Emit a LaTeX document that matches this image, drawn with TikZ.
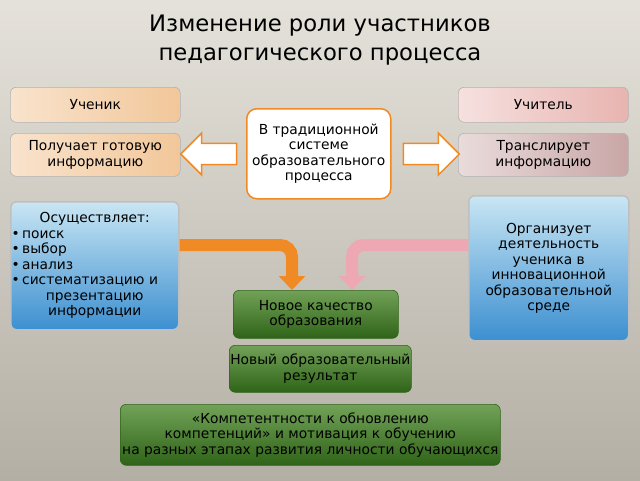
\documentclass[tikz,border=0pt]{standalone}
\usepackage{fontspec}
\setmainfont{DejaVu Sans}
\usetikzlibrary{shapes.arrows,arrows.meta}
\definecolor{bg}{HTML}{D3CEC2}
\definecolor{peach}{HTML}{F2C79A}
\definecolor{pink}{HTML}{E8B4B0}
\definecolor{mauve}{HTML}{C9A6A6}
\definecolor{bluet}{HTML}{C9E6F4}
\definecolor{blueb}{HTML}{3C8FD0}
\definecolor{grn}{HTML}{4E8A2E}
\definecolor{grnd}{HTML}{2F6418}
\definecolor{org}{HTML}{F08A24}
\definecolor{pinkarr}{HTML}{EDA8B4}
\tikzset{
  box/.style={rounded corners=6pt, draw=gray!60, line width=0.6pt, font=\fontsize{13.8}{15.5}\selectfont, align=center, inner sep=1pt},
  greenbox/.style={box, top color=grn!80!white, bottom color=grnd, draw=grnd},
  bluebox/.style={box, top color=bluet, bottom color=blueb, draw=gray!50, line width=1.5pt},
}
\begin{document}
\begin{tikzpicture}[x=1pt,y=-1pt]
\shade[top color=bg!60!white, bottom color=bg!85!black] (0,0) rectangle (640,480);
\useasboundingbox (0,0) rectangle (640,480);
\node (title) at (320,40) [align=center, font=\fontsize{22.7}{29}\selectfont] {Изменение роли участников\\педагогического процесса};
\node (uch) [box, minimum width=170, minimum height=35, left color=peach!50!white, right color=peach, anchor=north west] at (10,87) {Ученик};
\node (tea) [box, minimum width=170, minimum height=35, left color=pink!40!white, right color=pink, anchor=north west] at (458,87) {Учитель};
\node (get) [box, minimum width=170, minimum height=43, left color=peach!50!white, right color=peach, anchor=north west] at (10,133) {Получает готовую\\информацию};
\node (tr) [box, minimum width=170, minimum height=43, left color=mauve!40!white, right color=mauve, anchor=north west] at (458,133) {Транслирует\\информацию};
\node (c) [box, draw=org, line width=1.5pt, fill=white, rounded corners=10pt, minimum width=144, minimum height=90, anchor=north west] at (246,108) {В традиционной\\системе\\образовательного\\процесса};
\node (la) [single arrow, draw=org, line width=1.5pt, fill=white, minimum width=42, single arrow head extend=4pt, minimum height=56, shape border rotate=180] at (214,154) {};
\node (ra) [single arrow, draw=org, line width=1.5pt, fill=white, minimum width=42, single arrow head extend=4pt, minimum height=56] at (426,154) {};
\node (os) [bluebox, text width=166, minimum height=128, anchor=north west, inner sep=1pt] at (10,201) {\centering Осуществляет:\par
\raggedright •\,поиск\par •\,выбор\par •\,анализ\par •\,систематизацию и\par \centering презентацию\\ информации\par};
\node (org) [bluebox, minimum width=160, minimum height=145, anchor=north west] at (468,195) {Организует\\деятельность\\ученика в\\инновационной\\образовательной\\среде};
\node (nk) [greenbox, minimum width=165, minimum height=48, anchor=north west] at (233,290) {Новое качество\\образования};
\node (nr) [greenbox, minimum width=181, minimum height=47, anchor=north west] at (229,345) {Новый образовательный\\результат};
\node (kom) [greenbox, minimum width=380, minimum height=61, anchor=north west] at (120,404) {«Компетентности к обновлению\\компетенций» и мотивация к обучению\\на разных этапах развития личности обучающихся};
\draw[org, line width=12pt, rounded corners=12pt, -{Triangle[width=26pt,length=14pt]}] (os.east |- 0,245) -- (292,245) -- (nk.north -| 292,0);
\draw[pinkarr, line width=12pt, rounded corners=12pt, -{Triangle[width=26pt,length=14pt]}] (org.west |- 0,245) -- (352,245) -- (nk.north -| 352,0);
\end{tikzpicture}
\end{document}
